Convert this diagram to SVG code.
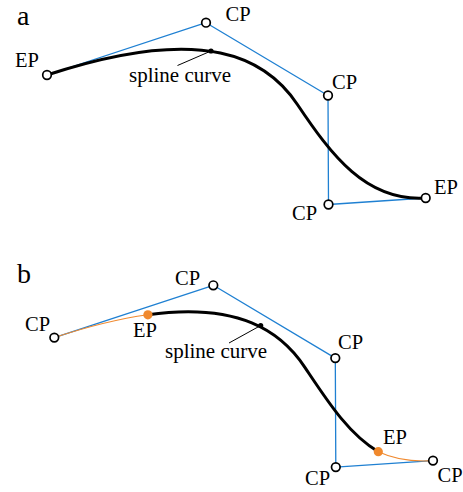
<svg xmlns="http://www.w3.org/2000/svg" width="463" height="492" viewBox="0 0 463 492">
<style>
.bg{fill:#ffffff}
.ctrl{fill:none;stroke:#1f80d2;stroke-width:1.3;stroke-linejoin:round}
.spline{fill:none;stroke:#000000;stroke-width:3;stroke-linecap:round}
.ext{fill:none;stroke:#f08a30;stroke-width:1.1}
.lead{fill:none;stroke:#000000;stroke-width:1}
.cp{fill:#ffffff;stroke:#000000;stroke-width:1.7}
.ep{fill:#f0892d;stroke:none}
.dot{fill:#000000}
text{font-family:'Liberation Serif','DejaVu Serif',serif;fill:#000000}
.lbl{font-size:20.5px}
.sc{font-size:21px}
.panel{font-size:28px}
</style>
<rect class="bg" x="0" y="0" width="463" height="492"/>

<!-- Panel a -->
<g id="panel-a" font-family="Liberation Serif, DejaVu Serif, serif">
  <text class="panel" x="17" y="25" font-family="Liberation Serif, serif">a</text>
  <g id="a-connectors">
    <polyline class="ctrl" points="47,75 206,22.7 328,95.5 328.5,204.5 425.7,198"/>
    <path class="spline" d="M47,75 C206,22.7 267,58.8 297.4,104.5 C330.9,154.3 365.8,202 425.7,198"/>
    <line class="lead" x1="211" y1="51" x2="177.5" y2="65.5"/>
  </g>
  <g id="a-curve-point"><circle class="dot" cx="211" cy="51" r="2.6"/></g>
  <g id="a-ep1"><circle class="cp" cx="47" cy="75" r="4.3"/><text class="lbl" x="15" y="67" font-family="Liberation Serif, serif">EP</text></g>
  <g id="a-cp1"><circle class="cp" cx="206" cy="22.7" r="4.3"/><text class="lbl" x="225.5" y="21" font-family="Liberation Serif, serif">CP</text></g>
  <g id="a-cp2"><circle class="cp" cx="328" cy="95.5" r="4.3"/><text class="lbl" x="332" y="89" font-family="Liberation Serif, serif">CP</text></g>
  <g id="a-cp3"><circle class="cp" cx="328.5" cy="204.5" r="4.3"/><text class="lbl" x="292" y="220" font-family="Liberation Serif, serif">CP</text></g>
  <g id="a-ep2"><circle class="cp" cx="425.7" cy="198" r="4.3"/><text class="lbl" x="434" y="194" font-family="Liberation Serif, serif">EP</text></g>
  <g id="a-label"><text class="sc" x="129" y="82" font-family="Liberation Serif, serif">spline curve</text></g>
</g>

<!-- Panel b -->
<g id="panel-b" font-family="Liberation Serif, DejaVu Serif, serif">
  <text class="panel" x="17" y="283" font-family="Liberation Serif, serif">b</text>
  <g id="b-connectors" transform="translate(7.3,262.6)">
    <polyline class="ctrl" points="47,75 206,22.7 328,95.5 328.5,204.5 425.7,198"/>
    <path class="ext" d="M47,75 C82.93,63.18 113.86,55.88 140.56,52.18"/>
    <path class="spline" d="M140.56,52.18 C232.01,39.51 273.87,69.13 297.4,104.5 C319.18,136.87 340.5,171 371,189.1"/>
    <path class="ext" d="M371,189.1 C386.84,196.5 404.74,199.4 425.7,198"/>
  </g>
  <g id="b-leader"><line class="lead" x1="260.7" y1="325.5" x2="229" y2="343"/></g>
  <g id="b-curve-point"><circle class="dot" cx="260.7" cy="325.5" r="2.6"/></g>
  <g id="b-cp0"><circle class="cp" cx="54.3" cy="337.6" r="4.3"/><text class="lbl" x="25" y="331" font-family="Liberation Serif, serif">CP</text></g>
  <g id="b-ep1"><circle class="ep" cx="147.9" cy="314.8" r="4.6"/><text class="lbl" x="133" y="337" font-family="Liberation Serif, serif">EP</text></g>
  <g id="b-cp1"><circle class="cp" cx="213.3" cy="285.3" r="4.3"/><text class="lbl" x="175" y="285" font-family="Liberation Serif, serif">CP</text></g>
  <g id="b-cp2"><circle class="cp" cx="335.3" cy="358.1" r="4.3"/><text class="lbl" x="338" y="349" font-family="Liberation Serif, serif">CP</text></g>
  <g id="b-cp3"><circle class="cp" cx="335.8" cy="467.1" r="4.3"/><text class="lbl" x="305" y="485" font-family="Liberation Serif, serif">CP</text></g>
  <g id="b-ep2"><circle class="ep" cx="378.3" cy="451.7" r="4.6"/><text class="lbl" x="383" y="444" font-family="Liberation Serif, serif">EP</text></g>
  <g id="b-cp4"><circle class="cp" cx="433" cy="460.6" r="4.3"/><text class="lbl" x="437.5" y="482" font-family="Liberation Serif, serif">CP</text></g>
  <g id="b-label"><text class="sc" x="165" y="358" font-family="Liberation Serif, serif">spline curve</text></g>
</g>
</svg>
